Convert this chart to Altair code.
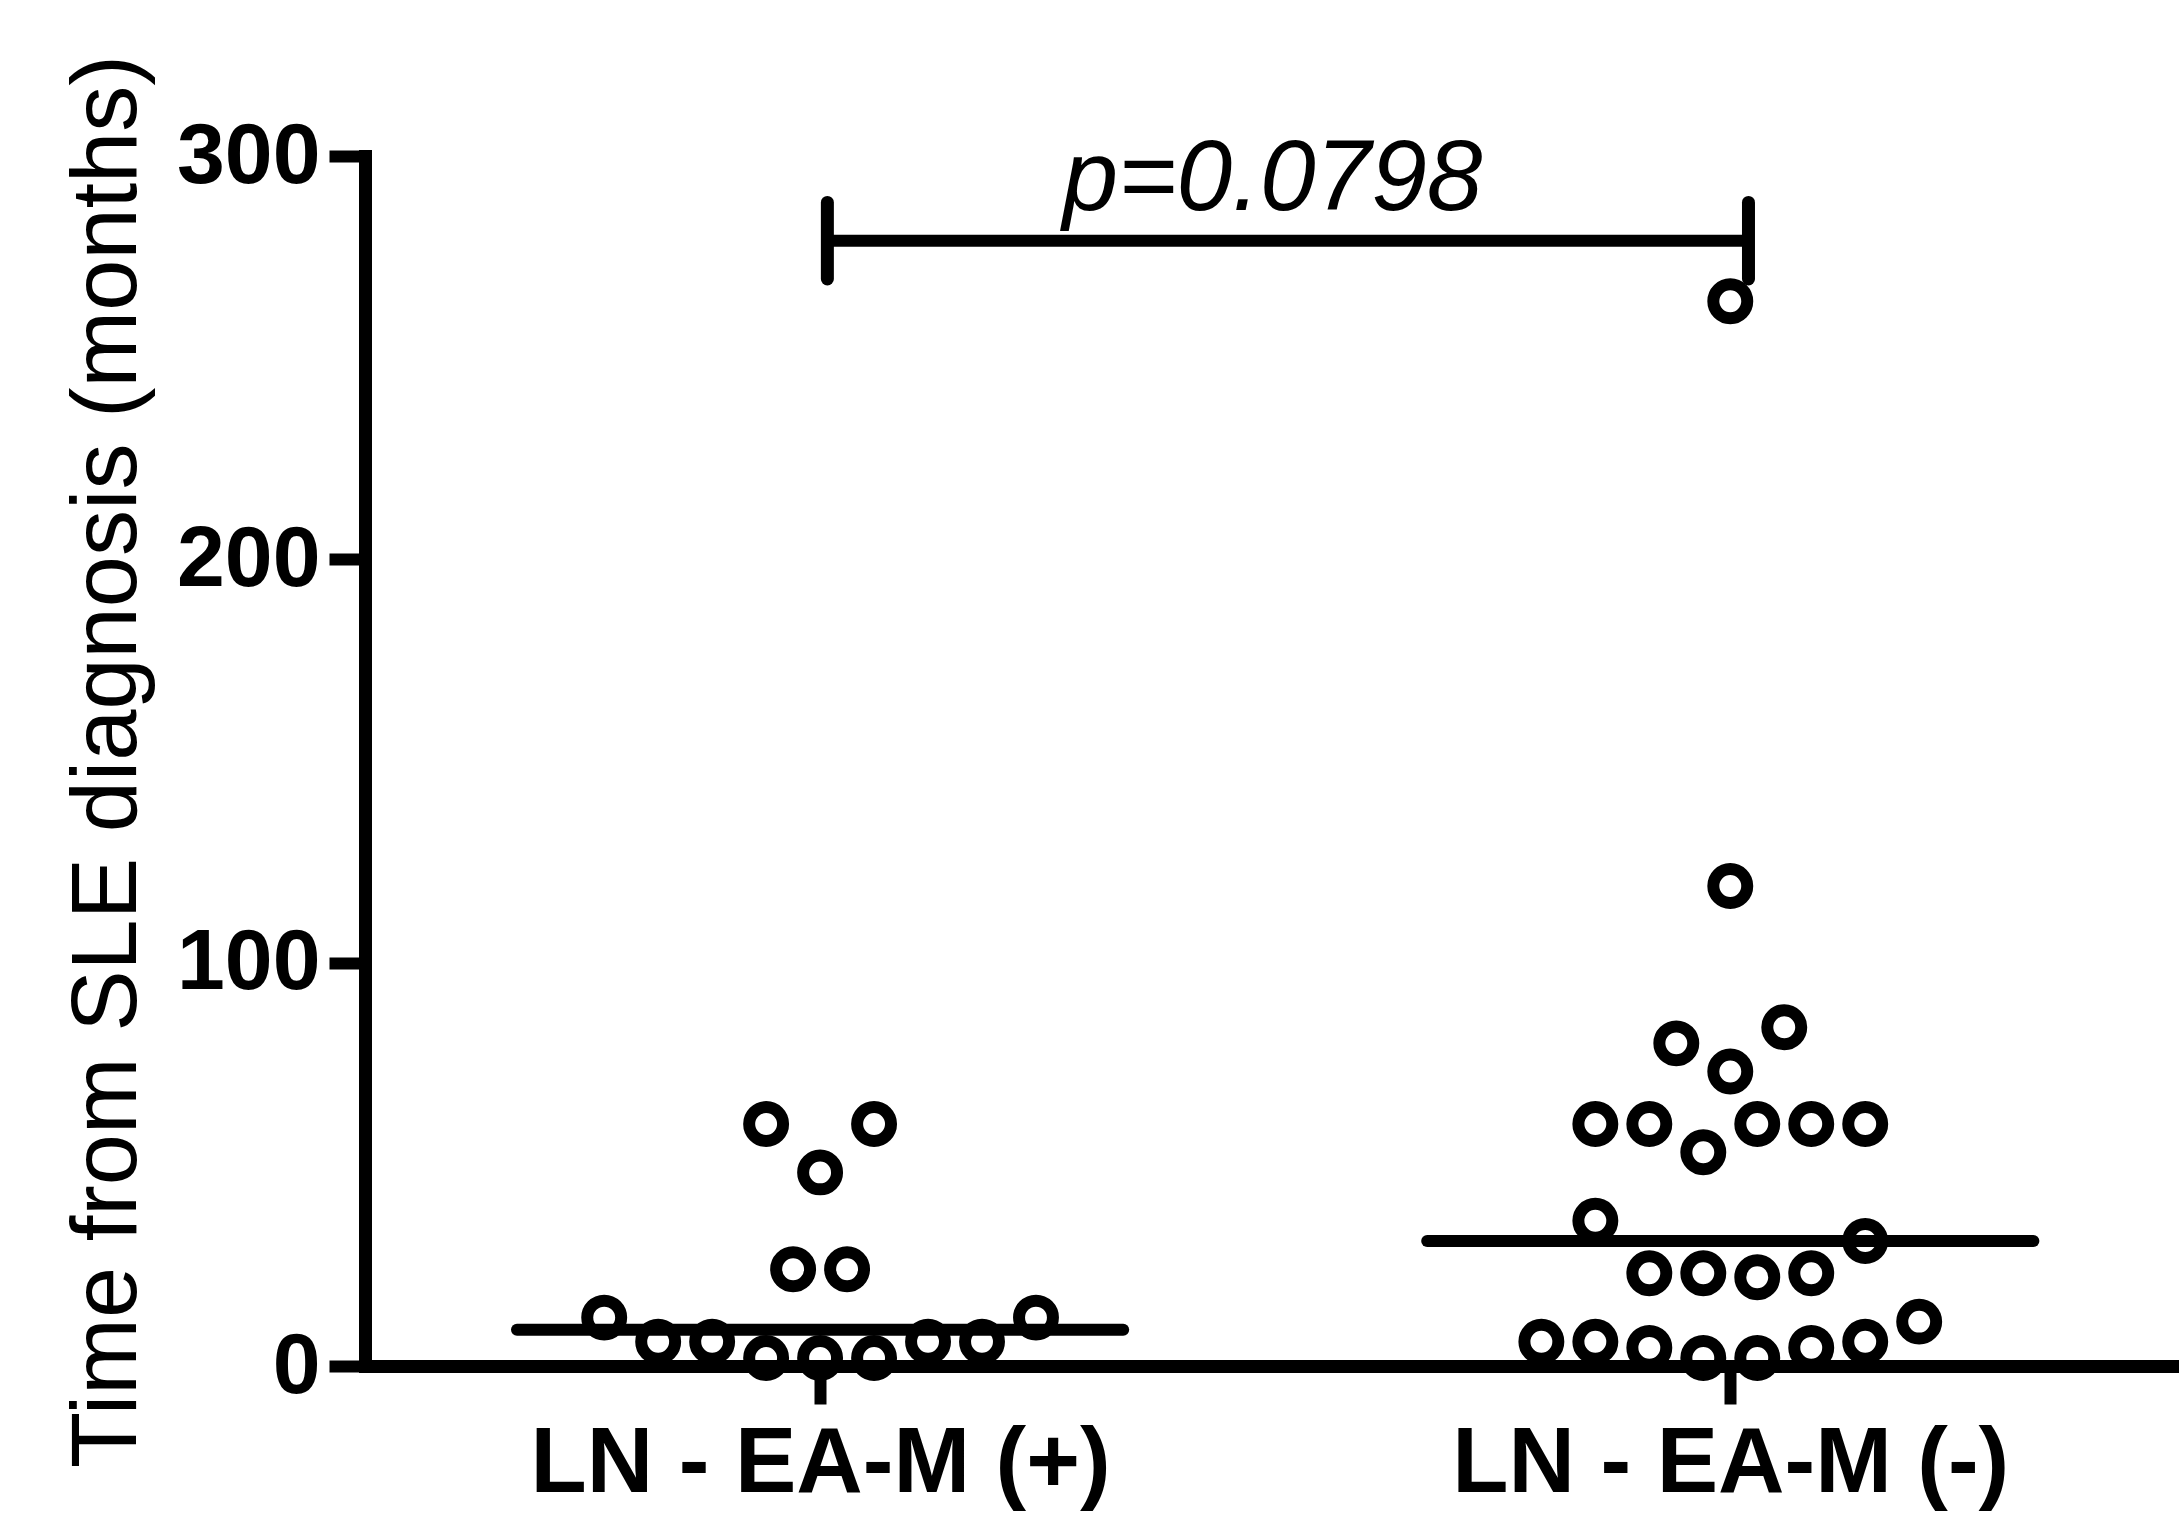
import altair as alt
import pandas as pd

# ---- data ----
GROUPS = ["LN - EA-M (+)", "LN - EA-M (-)"]

G1_VALUES = [60, 60, 48, 24, 24, 12, 12, 6, 6, 6, 6, 2, 2, 2]
G1_SLOTS = [-1, 1, 0, -0.5, 0.5, -4, 4, -3, -2, 2, 3, -1, 0, 1]

G2_VALUES = [264, 119, 80, 84, 73, 60, 60, 60, 60, 60, 53, 36, 31,
             23, 23, 22, 23, 11, 6, 6, 4.5, 2, 2, 4.5, 6]
G2_SLOTS = [0, 0, -1, 1, 0, -2.5, -1.5, 0.5, 1.5, 2.5, -0.5, -2.5, 2.5,
            -1.5, -0.5, 0.5, 1.5, 3.5, -3.5, -2.5, -1.5, -0.5, 0.5, 1.5, 2.5]

Y_TICKS = [0, 100, 200, 300]
P_LABEL = "p=0.0798"
BRACKET_X = [0.508, 1.52]
BRACKET_Y = 279
BRACKET_END = [269.5, 288.5]
P_POS = [0.997, 286.5]

# ---- layout constants ----
SLOT_STEP = 0.0593
MEDIAN_HALF = 0.333
FONT = "Liberation Sans"

rows = []
for gi, (vals, slots) in enumerate([(G1_VALUES, G1_SLOTS), (G2_VALUES, G2_SLOTS)]):
    for v, s in zip(vals, slots):
        rows.append({"gi": gi, "group": GROUPS[gi], "value": v, "slot": s})
df = pd.DataFrame(rows)

label_expr = f"datum.value < 1 ? '{GROUPS[0]}' : '{GROUPS[1]}'"

x_scale = alt.Scale(domain=[0, 1.993], nice=False, zero=False)
y_scale = alt.Scale(domain=[0, 300], nice=False)

x_axis = alt.Axis(values=[0.5, 1.5], labelExpr=label_expr, title=None, grid=False,
                  tickSize=38, tickWidth=12, domainWidth=13, tickColor="black",
                  domainColor="black", labelColor="black", labelFont=FONT,
                  labelFontSize=92, labelFontWeight="bold", labelPadding=14,
                  labelFlush=False, labelOverlap=False, labelLimit=2000,
                  domainCap="square")
y_axis = alt.Axis(values=Y_TICKS, title="Time from SLE diagnosis (months)", grid=False,
                  tickSize=36, tickWidth=12, domainWidth=13, tickColor="black",
                  domainColor="black", labelColor="black", labelFont=FONT,
                  labelFontSize=86, labelFontWeight="bold", labelPadding=9,
                  labelLimit=2000,
                  titleFont=FONT, titleFontSize=92, titleFontWeight="normal",
                  titleColor="black", titlePadding=22, domainCap="square")

base = alt.Chart(df)

points = base.transform_calculate(
    xpos=f"datum.gi + 0.5 + datum.slot * {SLOT_STEP}"
).mark_point(shape="circle", filled=False, size=1150, strokeWidth=12,
             color="black", opacity=1).encode(
    x=alt.X("xpos:Q", scale=x_scale, axis=x_axis),
    y=alt.Y("value:Q", scale=y_scale, axis=y_axis),
)

medians = base.transform_aggregate(
    med="median(value)", groupby=["gi"]
).transform_calculate(
    x1=f"datum.gi + 0.5 - {MEDIAN_HALF}",
    x2=f"datum.gi + 0.5 + {MEDIAN_HALF}",
).mark_rule(color="black", strokeWidth=12, strokeCap="round").encode(
    x=alt.X("x1:Q", scale=x_scale, axis=x_axis),
    x2="x2:Q",
    y=alt.Y("med:Q", scale=y_scale, axis=y_axis),
)

bracket_h_df = pd.DataFrame({"x1": [BRACKET_X[0]], "x2": [BRACKET_X[1]], "y": [BRACKET_Y]})
bracket_h = alt.Chart(bracket_h_df).mark_rule(color="black", strokeWidth=12).encode(
    x=alt.X("x1:Q", scale=x_scale, axis=x_axis),
    x2="x2:Q",
    y=alt.Y("y:Q", scale=y_scale, axis=y_axis),
)

bracket_v_df = pd.DataFrame({"x": BRACKET_X, "y1": [BRACKET_END[0]] * 2, "y2": [BRACKET_END[1]] * 2})
bracket_v = alt.Chart(bracket_v_df).mark_rule(color="black", strokeWidth=13, strokeCap="round").encode(
    x=alt.X("x:Q", scale=x_scale, axis=x_axis),
    y=alt.Y("y1:Q", scale=y_scale, axis=y_axis),
    y2="y2:Q",
)

text_df = pd.DataFrame({"x": [P_POS[0]], "y": [P_POS[1]], "t": [P_LABEL]})
ptext = alt.Chart(text_df).mark_text(font=FONT, fontSize=100, fontStyle="italic",
                                     baseline="alphabetic", align="center",
                                     color="black").encode(
    x=alt.X("x:Q", scale=x_scale, axis=x_axis),
    y=alt.Y("y:Q", scale=y_scale, axis=y_axis),
    text="t:N",
)

chart = alt.layer(medians, bracket_h, bracket_v, ptext, points).properties(
    width=1814,
    height=1210,
    autosize=alt.AutoSizeParams(type="none"),
    padding={"left": 365, "top": 156, "right": 0, "bottom": 167},
    background="white",
).configure_view(stroke=None)

chart.save("out.html", embed_options={"renderer": "svg", "actions": False})
